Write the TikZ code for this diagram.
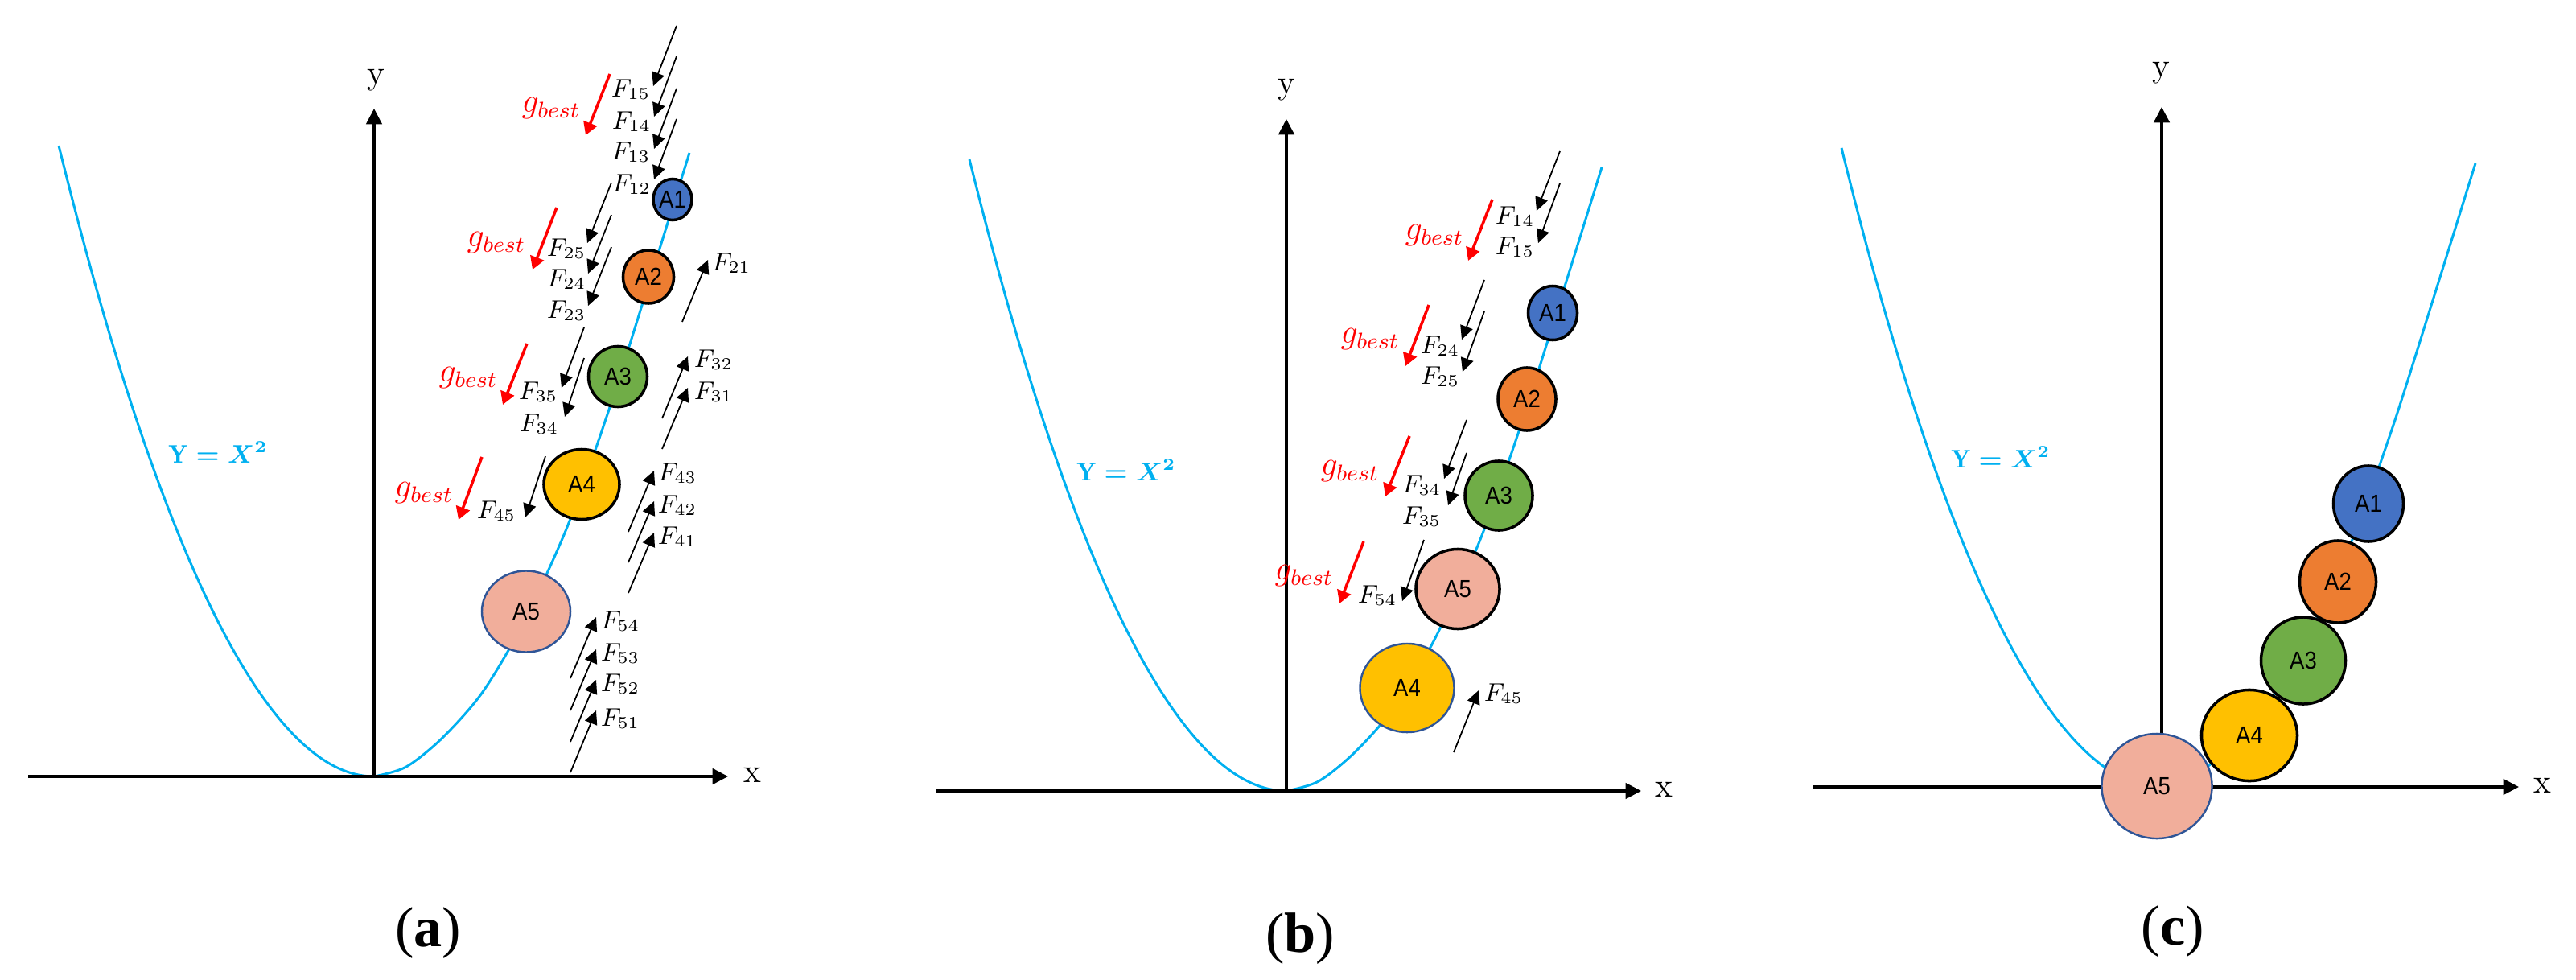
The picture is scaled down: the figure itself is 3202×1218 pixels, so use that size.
\documentclass[tikz,border=0pt]{standalone}
\usepackage{fontspec}
\newfontfamily\capfont{Liberation Serif}
\newfontfamily\ballfont{Liberation Sans}
\usetikzlibrary{arrows.meta,shapes.geometric}
\definecolor{curvecol}{RGB}{0,176,240}
\definecolor{bone}{RGB}{68,114,196}
\definecolor{btwo}{RGB}{237,125,49}
\definecolor{bthree}{RGB}{112,173,71}
\definecolor{bfour}{RGB}{255,192,0}
\definecolor{bfive}{RGB}{241,174,155}
\definecolor{bordblue}{RGB}{47,85,151}
\definecolor{gred}{RGB}{255,0,0}
\newcommand\rbranch{plot[smooth,tension=0.5] coordinates {(0,0) (40,-12) (85,-48) (135,-105) (185,-190) (240,-310) (290,-450) (340,-608) (392,-775)}}
\newcommand\bt[1]{\scalebox{0.9}[1]{#1}}
\begin{document}
\begin{tikzpicture}[x=0.01cm,y=-0.01cm,
  axis/.style={line width=1pt,-{Triangle[length=5.5pt,width=5.5pt]}},
  curve/.style={curvecol,line width=0.85pt},
  ball/.style={ellipse,draw=black,line width=1pt,inner sep=0pt,font=\fontsize{8.7}{9}\ballfont},
  blueball/.style={ball,draw=bordblue,line width=0.7pt},
  force/.style={line width=0.5pt,-{Triangle[length=4.8pt,width=4.6pt]}},
  gforce/.style={gred,line width=1pt,-{Triangle[length=4.5pt,width=5pt]}},
  flab/.style={font=\fontsize{9}{10}\selectfont,inner sep=0pt},
  glab/.style={text=gred,font=\fontsize{12}{13}\selectfont,inner sep=0pt},
  eqlab/.style={text=curvecol,font=\fontsize{9}{10}\selectfont\boldmath,inner sep=0pt},
  axlab/.style={font=\fontsize{12}{13}\selectfont,inner sep=0pt},
  caplab/.style={font=\fontsize{20}{22}\capfont,inner sep=0pt}]
\useasboundingbox (0,0) rectangle (3202,1218);

% ================= panel (a) =================
\begin{scope}[shift={(465,965)}]
  \draw[curve] (-392,-784) parabola[bend at end] (0,0);
  \draw[curve] \rbranch;
\end{scope}
\draw[axis] (35,965) -- (905,965);
\draw[axis] (465,965) -- (465,135);
\node[axlab] (ax) at (935,963) {x};
\node[axlab] (ay) at (467,100) {y};
\node[eqlab] (aeq) at (271,562) {$\mathrm{Y}=X^{2}$};

\node[ball,fill=bone,minimum width=0.48cm,minimum height=0.51cm] (aA1) at (836,248) {\bt{A1}};
\node[ball,fill=btwo,minimum width=0.63cm,minimum height=0.66cm] (aA2) at (806,344) {\bt{A2}};
\node[ball,fill=bthree,minimum width=0.73cm,minimum height=0.75cm] (aA3) at (768,468) {\bt{A3}};
\node[ball,fill=bfour,minimum width=0.94cm,minimum height=0.87cm] (aA4) at (723,602) {\bt{A4}};
\node[blueball,fill=bfive,minimum width=1.10cm,minimum height=1.01cm] (aA5) at (654,760) {\bt{A5}};

% A1 forces
\draw[force] (841,32) -- (812,107);
\draw[force] (841,70) -- (813,145);
\draw[force] (841,110) -- (813,185);
\draw[force] (841,148) -- (813,223);
\node[flab] (aF15) at (784,111) {$F_{15}$};
\node[flab] (aF14) at (785,151) {$F_{14}$};
\node[flab] (aF13) at (784,189) {$F_{13}$};
\node[flab] (aF12) at (785,229) {$F_{12}$};
\draw[gforce] (758,92) -- (728,168);
\node[glab] (ag1) at (685,135) {$g_{best}$};
% A2 forces
\draw[force] (760,227) -- (730,302);
\draw[force] (760,267) -- (731,340);
\draw[force] (760,307) -- (731,380);
\node[flab] (aF25) at (704,309) {$F_{25}$};
\node[flab] (aF24) at (704,347) {$F_{24}$};
\node[flab] (aF23) at (704,386) {$F_{23}$};
\draw[gforce] (692,258) -- (662,335);
\node[glab] (ag2) at (617,302) {$g_{best}$};
\draw[force] (848,400) -- (880,323);
\node[flab] (aF21) at (909,327) {$F_{21}$};
% A3 forces
\draw[force] (726,407) -- (698,482);
\draw[force] (726,445) -- (702,518);
\node[flab] (aF35) at (669,487) {$F_{35}$};
\node[flab] (aF34) at (670,527) {$F_{34}$};
\draw[gforce] (655,427) -- (625,503);
\node[glab] (ag3) at (582,470) {$g_{best}$};
\draw[force] (823,520) -- (855,443);
\draw[force] (823,558) -- (855,482);
\node[flab] (aF32) at (887,447) {$F_{32}$};
\node[flab] (aF31) at (887,487) {$F_{31}$};
% A4 forces
\draw[force] (678,567) -- (653,643);
\node[flab] (aF45) at (617,635) {$F_{45}$};
\draw[gforce] (599,568) -- (570,646);
\node[glab] (ag4) at (527,613) {$g_{best}$};
\draw[force] (781,661) -- (813,585);
\draw[force] (781,699) -- (813,623);
\draw[force] (781,737) -- (813,662);
\node[flab] (aF43) at (842,588) {$F_{43}$};
\node[flab] (aF42) at (842,628) {$F_{42}$};
\node[flab] (aF41) at (842,667) {$F_{41}$};
% A5 forces
\draw[force] (709,843) -- (741,767);
\draw[force] (709,883) -- (741,807);
\draw[force] (709,922) -- (741,845);
\draw[force] (709,960) -- (741,883);
\node[flab] (aF54) at (771,772) {$F_{54}$};
\node[flab] (aF53) at (771,812) {$F_{53}$};
\node[flab] (aF52) at (771,850) {$F_{52}$};
\node[flab] (aF51) at (771,893) {$F_{51}$};
\node[caplab] (capa) at (532,1160) {(\textbf{a})};

% ================= panel (b) =================
\begin{scope}[shift={(1599,983)}]
  \draw[curve] (-394,-785) parabola[bend at end] (0,0);
  \draw[curve] \rbranch;
\end{scope}
\draw[axis] (1163,983) -- (2040,983);
\draw[axis] (1599,983) -- (1599,148);
\node[axlab] (bx) at (2068,981) {x};
\node[axlab] (by) at (1599,112) {y};
\node[eqlab] (beq) at (1400,584) {$\mathrm{Y}=X^{2}$};

\node[ball,fill=bone,minimum width=0.61cm,minimum height=0.67cm] (bA1) at (1930,389) {\bt{A1}};
\node[ball,fill=btwo,minimum width=0.72cm,minimum height=0.78cm] (bA2) at (1898,496) {\bt{A2}};
\node[ball,fill=bthree,minimum width=0.84cm,minimum height=0.86cm] (bA3) at (1863,616) {\bt{A3}};
\node[ball,fill=bfive,minimum width=1.04cm,minimum height=0.99cm] (bA5) at (1812,732) {\bt{A5}};
\node[blueball,fill=bfour,minimum width=1.17cm,minimum height=1.10cm] (bA4) at (1749,855) {\bt{A4}};

\draw[force] (1939,188) -- (1910,262);
\draw[force] (1939,228) -- (1912,302);
\node[flab] (bF14) at (1883,269) {$F_{14}$};
\node[flab] (bF15) at (1883,307) {$F_{15}$};
\draw[gforce] (1855,248) -- (1825,324);
\node[glab] (bg1) at (1783,293) {$g_{best}$};
\draw[force] (1845,348) -- (1817,422);
\draw[force] (1845,387) -- (1818,462);
\node[flab] (bF24) at (1790,430) {$F_{24}$};
\node[flab] (bF25) at (1790,468) {$F_{25}$};
\draw[gforce] (1776,379) -- (1747,455);
\node[glab] (bg2) at (1703,422) {$g_{best}$};
\draw[force] (1823,522) -- (1795,595);
\draw[force] (1823,563) -- (1800,628);
\node[flab] (bF34) at (1767,603) {$F_{34}$};
\node[flab] (bF35) at (1767,642) {$F_{35}$};
\draw[gforce] (1752,542) -- (1722,617);
\node[glab] (bg3) at (1678,586) {$g_{best}$};
\draw[force] (1770,671) -- (1743,747);
\node[flab] (bF54) at (1712,740) {$F_{54}$};
\draw[gforce] (1695,673) -- (1665,750);
\node[glab] (bg4) at (1621,716) {$g_{best}$};
\draw[force] (1807,935) -- (1838,858);
\node[flab] (bF45) at (1869,862) {$F_{45}$};
\node[caplab] (capb) at (1616,1167) {(\textbf{b})};

% ================= panel (c) =================
\begin{scope}[shift={(2685,978)}]
  \draw[curve] (-396,-794) parabola[bend at end] (0,0);
  \draw[curve] \rbranch;
\end{scope}
\draw[axis] (2254,978) -- (3131,978);
\draw[axis] (2687,978) -- (2687,133);
\node[axlab] (cx) at (3160,976) {x};
\node[axlab] (cy) at (2686,91) {y};
\node[eqlab] (ceq) at (2487,568) {$\mathrm{Y}=X^{2}$};

\node[ball,fill=bone,minimum width=0.87cm,minimum height=0.94cm] (cA1) at (2944,626) {\bt{A1}};
\node[ball,fill=btwo,minimum width=0.95cm,minimum height=1.02cm] (cA2) at (2906,723) {\bt{A2}};
\node[ball,fill=bthree,minimum width=1.05cm,minimum height=1.08cm] (cA3) at (2863,821) {\bt{A3}};
\node[ball,fill=bfour,minimum width=1.19cm,minimum height=1.13cm] (cA4) at (2796,914) {\bt{A4}};
\node[blueball,fill=bfive,minimum width=1.37cm,minimum height=1.30cm] (cA5) at (2681,977) {\bt{A5}};
\node[caplab] (capc) at (2701,1158) {(\textbf{c})};
\end{tikzpicture}
\end{document}
